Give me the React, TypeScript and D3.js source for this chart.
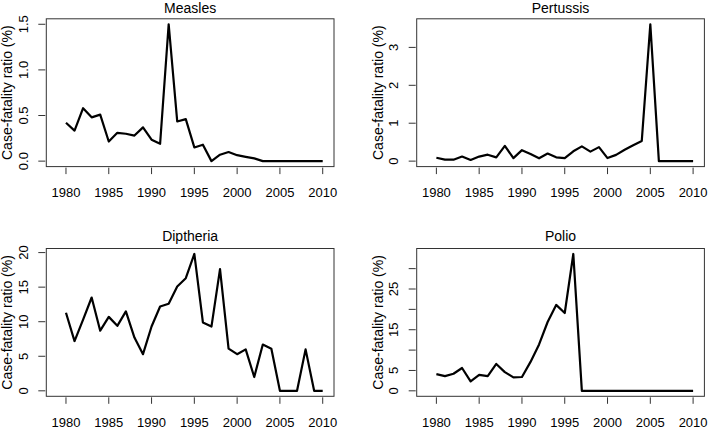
import React, { useEffect, useRef } from "react";
import * as d3 from "d3";

const years = d3.range(1980, 2011);

const measles = [0.42, 0.335, 0.58, 0.48, 0.51, 0.215, 0.31, 0.30, 0.28, 0.37,
    0.235, 0.19, 1.5, 0.435, 0.46, 0.15, 0.18, 0.0, 0.07, 0.10,
    0.065, 0.047, 0.03, 0, 0, 0, 0, 0, 0, 0, 0];

const pertussis = [0.088, 0.038, 0.038, 0.12, 0.03, 0.12, 0.17, 0.10, 0.40, 0.08,
    0.29, 0.19, 0.075, 0.2, 0.1, 0.08, 0.26, 0.39, 0.25, 0.37,
    0.08, 0.165, 0.30, 0.42, 0.53, 3.61, 0, 0, 0, 0, 0];

const diptheria = [11.3, 7.2, 10.3, 13.5, 8.7, 10.7, 9.4, 11.5, 7.7, 5.3,
    9.3, 12.2, 12.6, 15.1, 16.3, 19.8, 9.9, 9.3, 17.6, 6.1,
    5.3, 6.0, 2.0, 6.7, 6.1, 0, 0, 0, 6.0, 0, 0];

const polio = [4.1, 3.6, 4.2, 5.6, 2.3, 3.9, 3.6, 6.6, 4.6, 3.3,
    3.4, 7.1, 11.4, 16.9, 21.1, 19.1, 33.6, 0, 0, 0,
    0, 0, 0, 0, 0, 0, 0, 0, 0, 0, 0];

const xTicks = [1980, 1985, 1990, 1995, 2000, 2005, 2010];

const measlesTicks = [0, 0.5, 1.0, 1.5];
const measlesTickLabels = ["0.0", "0.5", "1.0", "1.5"];
const pertussisTicks = [0, 1, 2, 3];
const pertussisTickLabels = ["0", "1", "2", "3"];
const diptheriaTicks = [0, 5, 10, 15, 20];
const diptheriaTickLabels = ["0", "5", "10", "15", "20"];
const polioTicks = [0, 5, 10, 15, 20, 25, 30];
// R drops the labels that would overlap
const polioTickLabels = ["0", "5", "", "15", "", "25", ""];

const panels = [
    { title: "Measles", values: measles, ticks: measlesTicks, labels: measlesTickLabels, left: 46.3, top: 18.8 },
    { title: "Pertussis", values: pertussis, ticks: pertussisTicks, labels: pertussisTickLabels, left: 416.7, top: 18.8 },
    { title: "Diptheria", values: diptheria, ticks: diptheriaTicks, labels: diptheriaTickLabels, left: 46.3, top: 248.5 },
    { title: "Polio", values: polio, ticks: polioTicks, labels: polioTickLabels, left: 416.7, top: 248.5 },
];

const W = 708;
const H = 429;
const boxW = 287.7;
const boxH = 147.8;
const font = "'Liberation Sans', Arial, sans-serif";

function drawPanel(svg, p) {
    const g = svg.append("g").attr("transform", `translate(${p.left},${p.top})`);

    // R style 4% padding on both axes
    const x = d3.scaleLinear().domain([1977.7, 2011.32]).range([0, boxW]);
    const maxV = d3.max(p.values);
    const y = d3.scaleLinear().domain([-0.04 * maxV, 1.04 * maxV]).range([boxH, 0]);

    g.append("rect")
        .attr("x", 0).attr("y", 0)
        .attr("width", boxW).attr("height", boxH)
        .attr("fill", "none")
        .attr("stroke", "#333")
        .attr("stroke-width", 1);

    // x axis
    g.selectAll(".xtick").data(xTicks).enter()
        .append("line")
        .attr("x1", d => x(d)).attr("x2", d => x(d))
        .attr("y1", boxH + 1).attr("y2", boxH + 7.5)
        .attr("stroke", "#333");
    g.selectAll(".xlab").data(xTicks).enter()
        .append("text")
        .attr("x", d => x(d))
        .attr("y", boxH + 30.8)
        .attr("text-anchor", "middle")
        .style("font-family", font)
        .style("font-size", "13px")
        .text(d => d);

    // y axis
    g.selectAll(".ytick").data(p.ticks).enter()
        .append("line")
        .attr("x1", -8).attr("x2", -1)
        .attr("y1", d => y(d)).attr("y2", d => y(d))
        .attr("stroke", "#333");
    g.selectAll(".ylab").data(p.ticks).enter()
        .append("text")
        .attr("transform", d => `translate(-23,${y(d)}) rotate(-90)`)
        .attr("text-anchor", "middle")
        .attr("dominant-baseline", "central")
        .style("font-family", font)
        .style("font-size", "13px")
        .text((d, i) => p.labels[i]);

    g.append("text")
        .attr("transform", `translate(-39,${boxH / 2}) rotate(-90)`)
        .attr("text-anchor", "middle")
        .attr("dominant-baseline", "central")
        .style("font-family", font)
        .style("font-size", "14px")
        .text("Case-fatality ratio (%)");

    // title, kept inside the page for the top row
    g.append("text")
        .attr("x", boxW / 2)
        .attr("y", Math.max(-8, 13 - p.top))
        .attr("text-anchor", "middle")
        .style("font-family", font)
        .style("font-size", "14px")
        .text(p.title);

    const line = d3.line()
        .x((d, i) => x(years[i]))
        .y(d => y(d));

    g.append("path")
        .datum(p.values)
        .attr("d", line)
        .attr("fill", "none")
        .attr("stroke", "#000")
        .attr("stroke-width", 2.2)
        .attr("stroke-linejoin", "round");
}

export default function App() {
    const svgRef = useRef(null);

    useEffect(() => {
        const svg = d3.select(svgRef.current);
        svg.selectAll("*").remove();
        svg.append("rect").attr("width", W).attr("height", H).attr("fill", "#fff");
        panels.forEach(p => drawPanel(svg, p));
    }, []);

    return (
        <svg ref={svgRef} width={W} height={H}
            style={{ position: "absolute", left: 0, top: 0, background: "#fff" }} />
    );
}
